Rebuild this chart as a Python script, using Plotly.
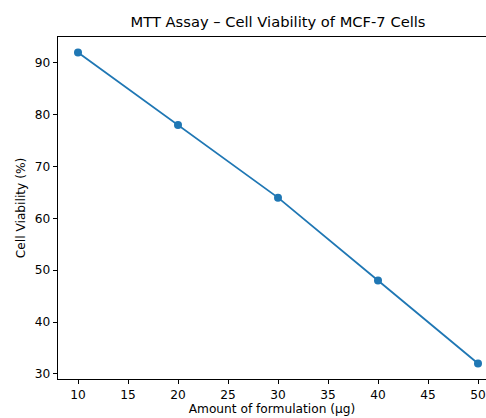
import plotly.graph_objects as go

amount = [10, 20, 30, 40, 50]
viability = [92, 78, 64, 48, 32]
x_ticks = [10, 15, 20, 25, 30, 35, 40, 45, 50]
y_ticks = [30, 40, 50, 60, 70, 80, 90]

W, H = 486, 418
L, R, T, B = 58, 0, 37, 39

fig = go.Figure()
fig.add_trace(go.Scatter(
    x=amount, y=viability, mode="lines+markers",
    line=dict(color="#1f77b4", width=1.8),
    marker=dict(color="#1f77b4", size=8),
    cliponaxis=False, showlegend=False,
))

font = dict(family="DejaVu Sans", size=12.2, color="#000000")
fig.update_layout(
    width=W, height=H,
    margin=dict(l=L, r=R, t=T, b=B, pad=0, autoexpand=False),
    paper_bgcolor="white", plot_bgcolor="white",
    font=font,
    title=dict(text="MTT Assay – Cell Viability of MCF-7 Cells",
               font=dict(family="DejaVu Sans", size=14.7, color="#000000"),
               xref="container", x=278 / W, xanchor="center",
               yref="container", y=1 - 22 / H, yanchor="middle"),
)
fig.update_xaxes(
    range=[8, 8 + (W - L) / 10.0], tickvals=x_ticks, ticktext=[str(v) for v in x_ticks],
    showgrid=False, zeroline=False, showline=True, linecolor="black", linewidth=1,
    mirror=True, ticks="outside", ticklen=4.3, tickcolor="black", tickwidth=1,
    tickfont=font, automargin=False,
    title=dict(text="Amount of formulation (µg)", font=font, standoff=3),
)
fig.update_yaxes(
    range=[29, 95], tickvals=y_ticks, ticktext=[str(v) for v in y_ticks],
    showgrid=False, zeroline=False, showline=True, linecolor="black", linewidth=1,
    mirror=False, ticks="outside", ticklen=4.3, tickcolor="black", tickwidth=1,
    tickfont=font, automargin=False,
    title=dict(text="Cell Viability (%)", font=font, standoff=6),
)
fig.write_html(
    "out.html",
    config={"displayModeBar": False},
    post_script="document.body.style.margin='0';document.body.style.overflow='hidden';",
)
